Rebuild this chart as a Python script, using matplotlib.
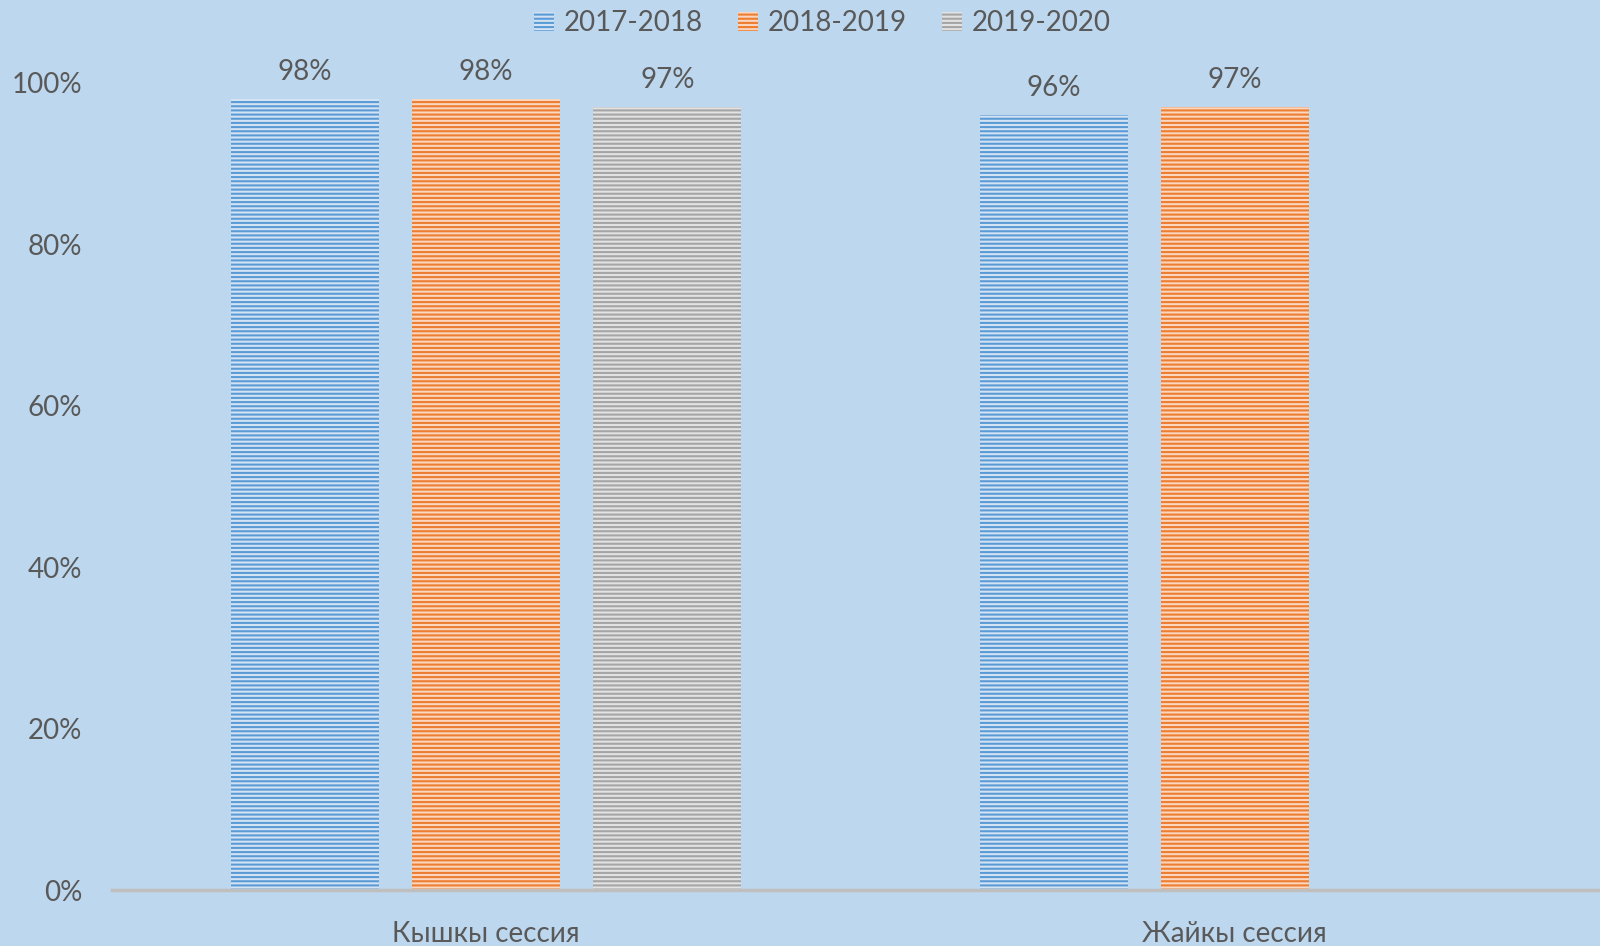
import matplotlib
matplotlib.use("Agg")
import matplotlib.pyplot as plt
from matplotlib.patches import Patch
import numpy as np

categories = ["Кышкы сессия", "Жайкы сессия"]
series_names = ["2017-2018", "2018-2019", "2019-2020"]
values_2017 = [0.98, 0.96]
values_2018 = [0.98, 0.97]
values_2019 = [0.97, None]
series_values = [values_2017, values_2018, values_2019]
y_ticks = [0, 0.2, 0.4, 0.6, 0.8, 1.0]
y_tick_labels = ["0%", "20%", "40%", "60%", "80%", "100%"]

line_colors = ["#5B9BD5", "#ED7D31", "#A5A5A5"]
face_colors = ["#D3E3F4", "#FAD6BE", "#E2E2E2"]
bg = "#BDD7EE"
text_color = "#595959"

plt.rcParams["font.family"] = ["Lato", "DejaVu Sans"]
plt.rcParams["hatch.linewidth"] = 1.5

W, H = 1600, 946
fig = plt.figure(figsize=(W / 100, H / 100), dpi=100, facecolor=bg)
ax = fig.add_axes([112 / W, (H - 890) / H, 1497 / W, (890 - 82.7) / H])
ax.set_facecolor(bg)

x = np.arange(len(categories))
offsets = [-0.242, 0.0, 0.242]
width = 0.198
fs = 20
for i, (name, vals) in enumerate(zip(series_names, series_values)):
    for j, v in enumerate(vals):
        if v is None:
            continue
        ax.bar(x[j] + offsets[i], v, width, facecolor=face_colors[i],
               edgecolor=line_colors[i], hatch="----", linewidth=0, zorder=2)
        ax.annotate(f"{round(v*100)}%", (x[j] + offsets[i], v), xytext=(0, 10),
                    textcoords="offset points", ha="center", va="bottom",
                    fontsize=fs, color=text_color, annotation_clip=False)

ax.set_xlim(-0.5, 1.5)
ax.set_ylim(0, 1.0)
ax.set_yticks(y_ticks)
ax.set_yticklabels(y_tick_labels, fontsize=fs, color=text_color)
ax.set_xticks(x)
ax.set_xticklabels(categories, fontsize=fs, color=text_color)
ax.tick_params(axis="both", length=0)
ax.tick_params(axis="x", pad=22)
ax.tick_params(axis="y", pad=21.6)
for t in ax.get_yticklabels():
    t.set_ha("right")
for s in ["top", "right", "left"]:
    ax.spines[s].set_visible(False)
ax.spines["bottom"].set_color("#BFBFBF")
ax.spines["bottom"].set_linewidth(2.5)
ax.spines["bottom"].set_zorder(3)

handles = [Patch(facecolor=face_colors[i], edgecolor=line_colors[i], hatch="----", linewidth=0)
           for i in range(3)]
fig.legend(handles, series_names, loc="center", bbox_to_anchor=(0.514, 1 - 23 / H), ncol=3,
           frameon=False, fontsize=fs, labelcolor=text_color, handlelength=0.7,
           handleheight=0.7, handletextpad=0.35, columnspacing=1.28)

fig.savefig("out.png", dpi=100, facecolor=bg)
